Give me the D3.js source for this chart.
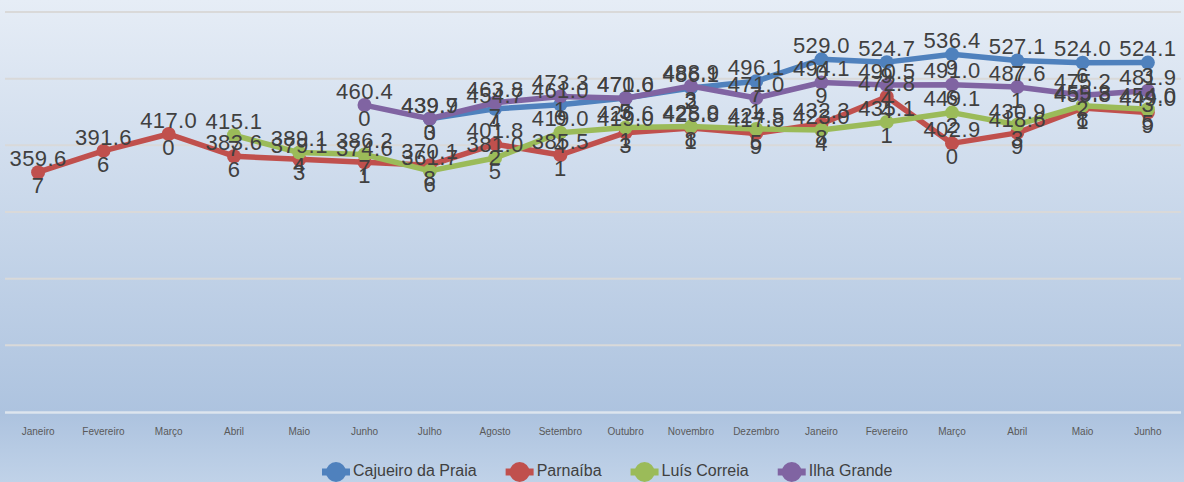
<!DOCTYPE html>
<html>
<head>
<meta charset="utf-8">
<script src="https://cdn.jsdelivr.net/npm/d3@7"></script>
<style>
html,body{margin:0;padding:0;}
body{width:1184px;height:482px;overflow:hidden;}
svg{display:block;font-family:"Liberation Sans",Arial,sans-serif;}
</style>
</head>
<body>
<svg id="chart" width="1184" height="482"></svg>
<script>
const months = ["Janeiro","Fevereiro","Março","Abril","Maio","Junho","Julho","Agosto","Setembro","Outubro","Novembro","Dezembro","Janeiro","Fevereiro","Março","Abril","Maio","Junho"];
const seriesNames = ["Cajueiro da Praia","Parnaíba","Luís Correia","Ilha Grande"];
const seriesColors = ["#4f81bd","#c0504d","#9bbb59","#8064a2"];
const cajueiro = [null,null,null,null,null,null,439.70,454.74,461.00,471.05,486.12,496.17,529.00,524.79,536.49,527.17,524.06,524.13];
const parnaiba = [359.67,391.66,417.00,383.66,379.13,374.61,370.18,401.82,385.51,419.03,425.81,417.89,432.38,472.84,402.90,418.69,455.81,449.09];
const luisCorreia = [null,null,null,415.17,389.14,386.27,361.76,381.05,419.04,426.61,428.08,424.55,423.04,435.11,449.12,430.93,459.38,454.05];
const ilhaGrande = [null,null,null,null,null,460.40,439.93,463.87,473.31,470.63,488.93,471.01,494.19,490.54,491.06,487.61,475.22,481.93];
const yTicks = [0,100,200,300,400,500,600];

const seriesValues = [cajueiro, parnaiba, luisCorreia, ilhaGrande];
const W = 1184, H = 482;
const svg = d3.select("#chart");

// background gradient
const defs = svg.append("defs");
const grad = defs.append("linearGradient").attr("id","bg").attr("x1",0).attr("y1",0).attr("x2",0).attr("y2",1);
grad.append("stop").attr("offset","0%").attr("stop-color","#e6edf6");
grad.append("stop").attr("offset","86%").attr("stop-color","#adc3df");
grad.append("stop").attr("offset","100%").attr("stop-color","#c0d2e8");
svg.append("rect").attr("width",W).attr("height",H).attr("fill","url(#bg)");

const x = d3.scaleBand().domain(d3.range(months.length)).range([5.5,1180.5]);
const cx = i => x(i) + x.bandwidth()/2;
const y = d3.scaleLinear().domain([0,600]).range([412,12]);

// gridlines
svg.append("g").selectAll("line").data(yTicks.filter(t=>t>0)).join("line")
  .attr("x1",5).attr("x2",1181)
  .attr("y1",d=>y(d)).attr("y2",d=>y(d))
  .attr("stroke","#d9d9d9").attr("stroke-width",2);

// x axis
const xAxis = d3.axisBottom(x).tickFormat(i=>months[i]).tickSize(0).tickPadding(16);
const gx = svg.append("g").attr("transform",`translate(0,${y(0)})`).call(xAxis);
gx.select(".domain").remove();
gx.selectAll("text").attr("font-size","10px").attr("fill","#595959").attr("font-family","'Liberation Sans',Arial,sans-serif");
svg.append("line").attr("x1",5).attr("x2",1181).attr("y1",y(0)+0.5).attr("y2",y(0)+0.5)
  .attr("stroke","#dde5ee").attr("stroke-width",2.5);

// lines
const line = d3.line().defined(d=>d.v!=null).x(d=>cx(d.i)).y(d=>y(d.v));
const data = seriesValues.map((vals,s)=>vals.map((v,i)=>({i,v,s})));
data.forEach((pts,s)=>{
  const g = svg.append("g");
  g.append("path").datum(pts).attr("d",line).attr("fill","none")
    .attr("stroke",seriesColors[s]).attr("stroke-width",5.5).attr("stroke-linejoin","round");
  g.selectAll("circle").data(pts.filter(d=>d.v!=null)).join("circle")
    .attr("cx",d=>cx(d.i)).attr("cy",d=>y(d.v)).attr("r",7).attr("fill",seriesColors[s]);
});

// labels
const lg = svg.append("g").attr("font-size","22px").attr("fill","#404040").attr("text-anchor","middle")
  .attr("letter-spacing","0.4px");
data.forEach(pts=>{
  pts.filter(d=>d.v!=null).forEach(d=>{
    const s = d.v.toFixed(2);
    const t = lg.append("text").attr("x",cx(d.i)).attr("y",y(d.v));
    t.append("tspan").attr("x",cx(d.i)).attr("y",y(d.v)-12).attr("dominant-baseline","middle").text(s.slice(0,5));
    t.append("tspan").attr("x",cx(d.i)).attr("y",y(d.v)+15).attr("dominant-baseline","middle").text(s.slice(5));
  });
});

// legend
const leg = svg.append("g").attr("font-size","16px").attr("fill","#404040");
let lx = 322;
const ly = 472;
seriesNames.forEach((n,s)=>{
  const g = leg.append("g");
  g.append("line").attr("x1",lx).attr("x2",lx+28).attr("y1",ly).attr("y2",ly)
    .attr("stroke",seriesColors[s]).attr("stroke-width",7);
  g.append("circle").attr("cx",lx+14).attr("cy",ly).attr("r",10).attr("fill",seriesColors[s]);
  const t = g.append("text").attr("x",lx+31).attr("y",ly).attr("dominant-baseline","middle").text(n);
  const w = t.node().getComputedTextLength();
  lx += 31 + w + 29;
});
</script>
</body>
</html>
